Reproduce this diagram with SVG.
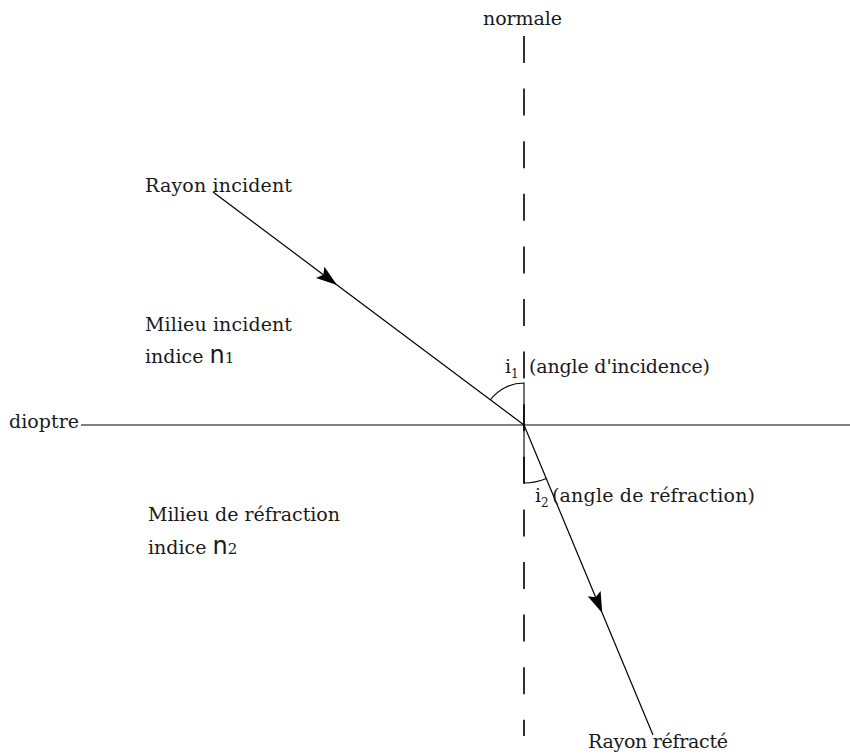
<svg xmlns="http://www.w3.org/2000/svg" width="850" height="756" viewBox="0 0 850 756">
<style>
text{font-family:"DejaVu Serif","Liberation Serif",serif;font-size:19px;fill:#1a1a1a}
.ln{stroke:#000;stroke-width:1.2;fill:none}
.arc{stroke:#000;stroke-width:1.1;fill:none}
.dash{stroke:#000;stroke-width:1.6;stroke-dasharray:27 25.6}
.nn{font-family:"DejaVu Sans","Liberation Sans",sans-serif;font-size:24px}
.sm{font-size:15px}
.sub{font-size:12px}
</style>
<defs>
<marker id="ah" viewBox="-22 -8 24 16" markerWidth="24" markerHeight="16" refX="0" refY="0" orient="auto" markerUnits="userSpaceOnUse">
<path d="M0,0 L-21,-7 L-17,0 L-21,7 Z" fill="#000"/>
</marker>
</defs>
<rect width="850" height="756" fill="#fff"/>
<g id="connectors">
<line id="normale-line" class="dash" x1="524" y1="36" x2="524" y2="736"/>
<line id="dioptre-line" class="ln" x1="81" y1="425" x2="850" y2="425"/>
<path id="rayon-incident" class="ln" d="M213,192 L337,284.9 L524,425" marker-mid="url(#ah)"/>
<path id="rayon-refracte" class="ln" d="M524,425 L602.2,613 L653,735" marker-mid="url(#ah)"/>
<path id="angle-i1" class="arc" d="M524,425 V383 A42,42 0 0 0 490.4,399.8"/>
<path id="angle-i2" class="arc" d="M524,425 V483 A58,58 0 0 0 546.3,478.5"/>
</g>
<g id="normale"><text x="483" y="25" textLength="79">normale</text></g>
<g id="dioptre"><text x="9" y="428" textLength="70">dioptre</text></g>
<g id="rayon-incident-label"><text x="145" y="192" textLength="147">Rayon incident</text></g>
<g id="milieu-incident">
<text x="145" y="331" textLength="147">Milieu incident</text>
<text x="145" y="363">indice <tspan class="nn">n</tspan><tspan class="sm">1</tspan></text>
</g>
<g id="angle-incidence">
<text x="505" y="373">i<tspan class="sub" dy="5">1</tspan></text>
<text x="529" y="373" textLength="181">(angle d'incidence)</text>
</g>
<g id="angle-refraction">
<text x="535" y="502">i<tspan class="sub" dy="5">2</tspan></text>
<text x="552" y="502" textLength="203">(angle de réfraction)</text>
</g>
<g id="milieu-refraction">
<text x="148" y="521" textLength="192">Milieu de réfraction</text>
<text x="148" y="554">indice <tspan class="nn">n</tspan><tspan class="sm">2</tspan></text>
</g>
<g id="rayon-refracte-label"><text x="588" y="748" textLength="140">Rayon réfracté</text></g>
</svg>
